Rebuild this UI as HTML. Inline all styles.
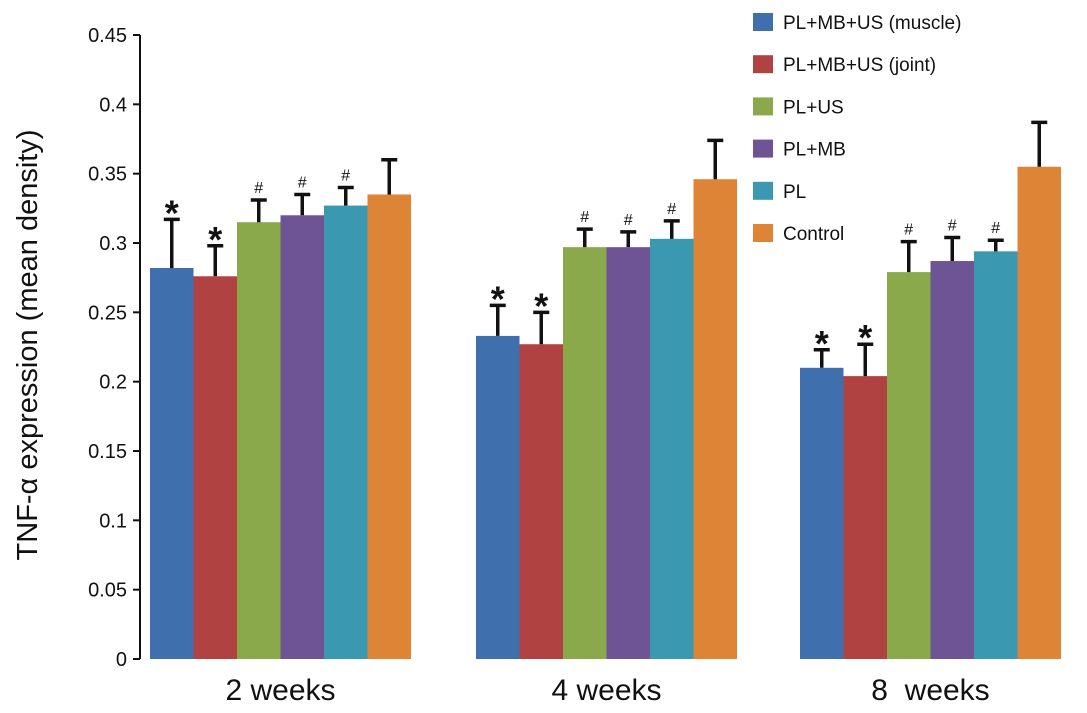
<!DOCTYPE html>
<html><head><meta charset="utf-8"><style>
html,body{margin:0;padding:0;background:#fff;}
svg{display:block;font-family:"Liberation Sans",Arial,sans-serif;}
</style></head><body>
<svg id="chart" width="1087" height="713"></svg>
<script>
const categories=["2 weeks","4 weeks","8  weeks"];
const seriesNames=["PL+MB+US (muscle)","PL+MB+US (joint)","PL+US","PL+MB","PL","Control"];
const colors=["#3f6fad","#b04342","#8aa94a","#6e5494","#3a98b0","#de8436"];
const values=[[0.282,0.276,0.315,0.320,0.327,0.335],[0.233,0.227,0.297,0.297,0.303,0.346],[0.210,0.204,0.279,0.287,0.294,0.355]];
const errTops=[[0.317,0.298,0.331,0.335,0.340,0.360],[0.255,0.250,0.310,0.308,0.316,0.374],[0.223,0.227,0.301,0.304,0.302,0.387]];
const marks=[["*","*","#","#","#",""],["*","*","#","#","#",""],["*","*","#","#","#",""]];
const yTicks=[0,0.05,0.1,0.15,0.2,0.25,0.3,0.35,0.4,0.45];
const yTickLabels=["0","0.05","0.1","0.15","0.2","0.25","0.3","0.35","0.4","0.45"];
const NS="http://www.w3.org/2000/svg";
const svg=document.getElementById('chart');
const y0=659,y1=35,vmax=0.45;
function y(v){return y0-(v/vmax)*(y0-y1);}
const groupStart=[150,476,800],barW=43.5;
function x(g,s){return groupStart[g]+s*barW;}
function el(t,a,txt){const e=document.createElementNS(NS,t);for(const k in a)e.setAttribute(k,a[k]);if(txt!==undefined)e.textContent=txt;svg.appendChild(e);return e;}
values.forEach((grp,g)=>grp.forEach((v,s)=>{
  const r=el('rect',{x:x(g,s),y:y(v),width:barW,height:y0-y(v),fill:colors[s]});
  
  
  const cx=x(g,s)+barW/2,t=y(errTops[g][s]);
  const l=el('path',{d:`M${cx},${y(v)}V${t}M${cx-8},${t}H${cx+8}`,stroke:'#111','stroke-width':3.5,fill:'none'});
  
  
  const m=marks[g][s];
  if(m){const tx=el('text',{x:cx,y:m==='*'?t+6:t-7,'text-anchor':'middle','font-size':m==='*'?36:16,'font-weight':m==='*'?'bold':'normal',fill:'#111'},m);
    
    }
}));
const ax=el('path',{d:`M140,${y1}V${y0}`,stroke:'#111','stroke-width':2,fill:'none'});


yTicks.forEach((v,i)=>{
  const tk=el('path',{d:`M133,${y(v)}H140`,stroke:'#111','stroke-width':2});
  
  
  const lb=el('text',{x:127,y:y(v)+7,'text-anchor':'end','font-size':20,fill:'#111'},yTickLabels[i]);
  
  
});
categories.forEach((c,g)=>{
  const t=el('text',{x:groupStart[g]+3*barW,y:700,'text-anchor':'middle','font-size':30,fill:'#111'},c);
  t.setAttribute('style','white-space:pre');
  
  
});
const yt=el('text',{x:0,y:0,transform:'translate(37,345) rotate(-90)','text-anchor':'middle','font-size':29,fill:'#111'},'TNF-α expression (mean density)');


seriesNames.forEach((n,i)=>{
  const yy=22+i*42.2;
  const sw=el('rect',{x:753,y:yy-9,width:20,height:18,fill:colors[i]});
  
  
  const t=el('text',{x:783,y:yy+7,'font-size':19,fill:'#111'},n);
  
  
});
</script>
</body></html>
